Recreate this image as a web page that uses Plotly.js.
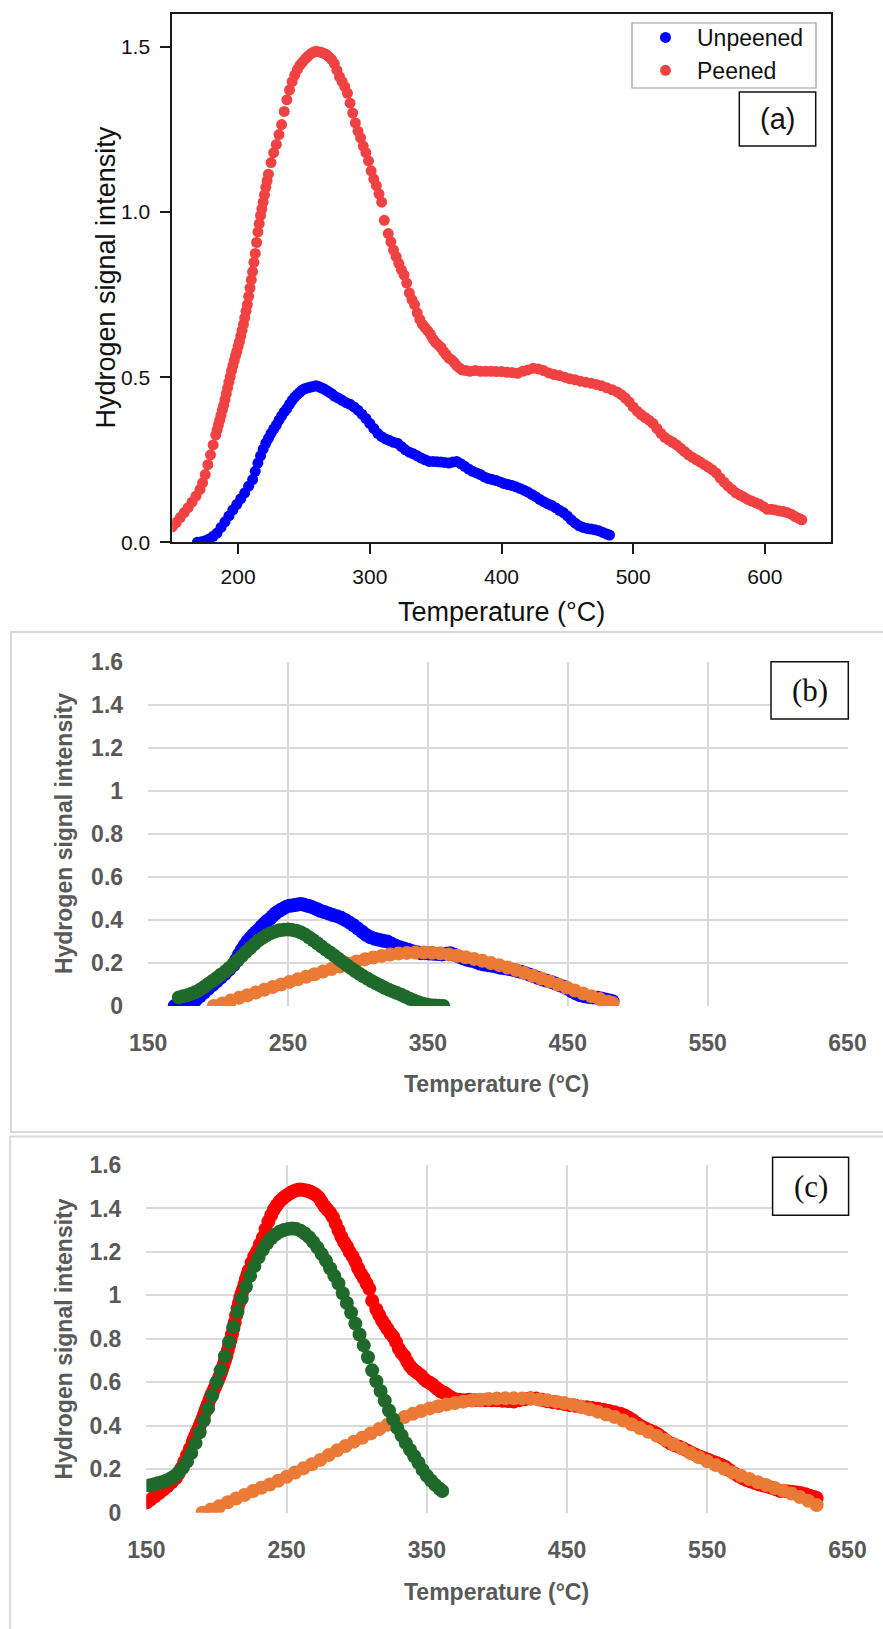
<!DOCTYPE html>
<html>
<head>
<meta charset="utf-8">
<script src="https://cdn.plot.ly/plotly-3.0.1.min.js"></script>
<style>html,body{margin:0;padding:0;background:#fff;}#chart{width:883px;height:1629px;}</style>
</head>
<body>
<div id="chart"></div>
<script>
// ---------- Data ----------
// Panel (a)/(b): Unpeened
const T_unpeened = [169,172,175,178,181,184,187,190,193,196,199,202,205,208,211,213,215,217,219,221,223,225,227,229,231,233,235,237,239,241,243,245,247,249,251,253,255,257,259,261,263,265,267,269,271,273,276,279,282,285,288,291,294,297,300,303,306,309,312,315,318,321,324,327,330,333,336,339,342,345,348,351,354,357,360,363,366,369,372,375,378,381,384,387,390,393,396,399,402,405,408,411,414,417,420,423,426,429,432,435,438,441,444,447,450,453,456,459,462,465,468,471,474,477,480,482];
const I_unpeened = [0.0,0.002,0.005,0.01,0.018,0.028,0.045,0.062,0.08,0.098,0.115,0.132,0.15,0.17,0.19,0.215,0.24,0.262,0.282,0.3,0.315,0.33,0.343,0.355,0.37,0.383,0.395,0.405,0.418,0.43,0.44,0.448,0.455,0.462,0.466,0.468,0.47,0.472,0.474,0.472,0.468,0.465,0.46,0.455,0.45,0.443,0.437,0.43,0.423,0.418,0.41,0.4,0.388,0.375,0.36,0.345,0.33,0.32,0.313,0.308,0.303,0.3,0.29,0.28,0.273,0.268,0.262,0.255,0.25,0.245,0.245,0.244,0.243,0.242,0.24,0.243,0.245,0.238,0.23,0.222,0.215,0.21,0.205,0.198,0.193,0.19,0.187,0.183,0.178,0.175,0.172,0.168,0.163,0.158,0.152,0.145,0.138,0.13,0.123,0.117,0.112,0.105,0.097,0.09,0.08,0.068,0.058,0.05,0.045,0.042,0.04,0.038,0.035,0.03,0.025,0.022];

// Panel (a)/(c): Peened
const T_peened = [150,153,156,159,162,165,168,171,173,175,177,179,181,183,184,185,186,187,188,189,190,191,192,193,194,195,196,197,198,199,200,201,202,203,204,205,206,207,208,209,210,211,212,213,214,215,216,217,218,219,220,221,222,223,225,227,229,231,233,235,237,239,241,243,245,247,249,251,253,255,257,259,261,263,265,267,269,271,273,275,277,279,281,283,285,287,289,291,293,295,297,299,301,303,305,307,309,311,314,316,318,320,322,324,326,328,330,332,334,336,338,340,342,344,346,348,350,352,354,356,358,360,362,364,366,368,370,373,376,380,384,388,392,396,400,404,408,412,416,420,424,428,432,436,440,444,448,452,456,460,464,468,472,476,480,484,488,491,494,497,500,503,506,509,512,515,518,521,524,527,530,533,536,539,542,545,548,551,554,557,560,563,566,569,572,575,578,581,584,587,590,593,596,599,602,605,608,611,614,617,620,623,626,628];
const I_peened = [0.047,0.06,0.075,0.09,0.105,0.122,0.14,0.16,0.18,0.205,0.235,0.265,0.295,0.325,0.34,0.355,0.37,0.385,0.4,0.415,0.432,0.45,0.468,0.485,0.502,0.52,0.535,0.55,0.565,0.578,0.593,0.608,0.625,0.642,0.66,0.68,0.7,0.72,0.745,0.77,0.795,0.82,0.848,0.875,0.908,0.94,0.965,0.99,1.01,1.03,1.052,1.075,1.095,1.115,1.15,1.18,1.205,1.235,1.265,1.305,1.34,1.37,1.395,1.415,1.432,1.445,1.455,1.464,1.472,1.479,1.484,1.487,1.486,1.484,1.481,1.477,1.47,1.462,1.45,1.43,1.41,1.395,1.38,1.36,1.33,1.3,1.27,1.245,1.225,1.2,1.18,1.155,1.125,1.1,1.08,1.055,1.03,0.975,0.935,0.91,0.885,0.865,0.845,0.825,0.81,0.785,0.755,0.735,0.72,0.695,0.675,0.66,0.65,0.64,0.63,0.615,0.605,0.598,0.59,0.578,0.568,0.558,0.553,0.545,0.535,0.528,0.522,0.52,0.518,0.52,0.518,0.518,0.518,0.517,0.517,0.515,0.514,0.512,0.518,0.522,0.527,0.525,0.52,0.513,0.508,0.505,0.5,0.495,0.492,0.488,0.485,0.482,0.478,0.474,0.468,0.462,0.455,0.447,0.437,0.425,0.41,0.397,0.387,0.378,0.37,0.36,0.345,0.33,0.318,0.31,0.303,0.295,0.285,0.275,0.265,0.257,0.25,0.243,0.235,0.228,0.22,0.21,0.195,0.182,0.17,0.16,0.15,0.143,0.137,0.13,0.125,0.12,0.115,0.108,0.1,0.1,0.098,0.095,0.093,0.09,0.085,0.078,0.072,0.068];

// Panel (b): fitted peaks for unpeened
const T_b_peak1 = [172,175,178,181,184,187,190,193,196,199,202,205,208,211,214,217,220,223,226,229,232,235,238,241,244,247,250,253,256,259,262,265,268,271,274,277,280,283,286,289,292,295,298,301,304,307,310,313,316,319,322,325,328,331,334,337,340,343,346,349,352,355,358,361];
const I_b_peak1 = [0.04,0.045,0.05,0.057,0.065,0.075,0.088,0.102,0.116,0.13,0.145,0.16,0.177,0.195,0.213,0.232,0.252,0.27,0.288,0.305,0.318,0.33,0.34,0.347,0.352,0.355,0.356,0.354,0.35,0.343,0.333,0.32,0.306,0.292,0.277,0.262,0.249,0.235,0.22,0.205,0.19,0.176,0.163,0.15,0.138,0.127,0.115,0.105,0.095,0.085,0.076,0.068,0.06,0.052,0.043,0.034,0.026,0.018,0.012,0.007,0.004,0.002,0.001,0.0];
const T_b_peak2 = [197,203,209,215,221,227,233,239,245,251,257,263,269,275,281,287,293,299,305,311,317,323,329,335,341,347,353,359,365,371,377,383,389,395,401,407,413,419,425,431,437,443,449,455,461,467,473,479,482];
const I_b_peak2 = [0.0,0.012,0.025,0.038,0.05,0.063,0.075,0.088,0.1,0.112,0.124,0.136,0.148,0.16,0.172,0.184,0.196,0.207,0.217,0.226,0.233,0.239,0.244,0.247,0.249,0.249,0.248,0.245,0.24,0.234,0.227,0.219,0.21,0.2,0.19,0.179,0.167,0.154,0.141,0.128,0.114,0.1,0.086,0.072,0.058,0.045,0.032,0.02,0.014];

// Panel (c): fitted peaks for peened
const T_c_peak1 = [152,155,158,161,164,167,170,173,176,179,182,185,188,191,194,197,200,203,206,209,212,215,218,221,224,227,230,233,236,239,242,245,248,251,254,257,260,263,266,269,272,275,278,281,284,287,290,293,296,299,302,305,308,311,314,317,320,323,326,329,332,335,338,341,344,347,350,353,356,359,361];
const I_c_peak1 = [0.125,0.13,0.135,0.14,0.147,0.156,0.168,0.185,0.207,0.235,0.275,0.32,0.37,0.425,0.48,0.54,0.6,0.655,0.72,0.785,0.855,0.925,0.985,1.04,1.09,1.135,1.175,1.21,1.24,1.263,1.28,1.293,1.301,1.306,1.308,1.305,1.298,1.285,1.268,1.246,1.22,1.19,1.16,1.125,1.09,1.055,1.01,0.965,0.92,0.87,0.82,0.77,0.715,0.655,0.605,0.56,0.515,0.47,0.43,0.39,0.355,0.32,0.29,0.26,0.23,0.197,0.17,0.148,0.128,0.11,0.1];
const T_c_peak2 = [190,196,202,208,214,220,226,232,238,244,250,256,262,268,274,280,286,292,298,304,310,316,322,328,334,340,346,352,358,364,370,376,382,388,394,400,406,412,418,424,430,436,442,448,454,460,466,472,478,484,490,496,502,508,514,520,526,532,538,544,550,556,562,568,574,580,586,592,598,604,610,616,622,628];
const I_c_peak2 = [0.0,0.015,0.03,0.048,0.065,0.082,0.1,0.115,0.13,0.147,0.165,0.185,0.204,0.223,0.243,0.265,0.287,0.307,0.327,0.345,0.365,0.385,0.405,0.423,0.44,0.455,0.468,0.48,0.49,0.498,0.505,0.511,0.516,0.52,0.523,0.525,0.527,0.527,0.526,0.524,0.521,0.517,0.511,0.505,0.497,0.487,0.476,0.464,0.452,0.44,0.424,0.407,0.39,0.372,0.354,0.335,0.315,0.295,0.275,0.255,0.237,0.219,0.202,0.185,0.17,0.155,0.14,0.127,0.114,0.101,0.088,0.072,0.055,0.035];

// Tick labels
const a_xticks = [200,300,400,500,600];
const a_yticks = [0,0.5,1.0,1.5];
const a_ytext = ['0.0','0.5','1.0','1.5'];
const bc_xticks = [150,250,350,450,550,650];
const bc_yticks = [0,0.2,0.4,0.6,0.8,1.0,1.2,1.4,1.6];
const bc_ytext = ['0','0.2','0.4','0.6','0.8','1','1.2','1.4','1.6'];

// ---------- Layout helpers ----------
const W = 883, H = 1629;
const px = v => v / W;
const py = v => 1 - v / H;

const sans = 'Liberation Sans, Arial, sans-serif';
const serif = 'Liberation Serif, Times New Roman, serif';
const grey = '#595959';

const traces = [
  {x: T_unpeened, y: I_unpeened, name: 'Unpeened', mode: 'markers', type: 'scatter',
   marker: {color: '#0000FF', size: 11}, xaxis: 'x', yaxis: 'y'},
  {x: T_peened, y: I_peened, name: 'Peened', mode: 'markers', type: 'scatter',
   marker: {color: '#F04242', size: 11}, xaxis: 'x', yaxis: 'y'},

  {x: T_unpeened, y: I_unpeened, name: 'Unpeened', mode: 'markers', type: 'scatter', showlegend: false,
   marker: {color: '#0000FF', size: 14}, xaxis: 'x2', yaxis: 'y2'},
  {x: T_b_peak2, y: I_b_peak2, name: 'Peak 2', mode: 'markers', type: 'scatter', showlegend: false,
   marker: {color: '#EB7A36', size: 14}, xaxis: 'x2', yaxis: 'y2'},
  {x: T_b_peak1, y: I_b_peak1, name: 'Peak 1', mode: 'markers', type: 'scatter', showlegend: false,
   marker: {color: '#1F6A2A', size: 14}, xaxis: 'x2', yaxis: 'y2'},

  {x: T_peened, y: I_peened, name: 'Peened', mode: 'markers', type: 'scatter', showlegend: false,
   marker: {color: '#FF0000', size: 14}, xaxis: 'x3', yaxis: 'y3'},
  {x: T_c_peak2, y: I_c_peak2, name: 'Peak 2', mode: 'markers', type: 'scatter', showlegend: false,
   marker: {color: '#EB7A36', size: 14}, xaxis: 'x3', yaxis: 'y3'},
  {x: T_c_peak1, y: I_c_peak1, name: 'Peak 1', mode: 'markers', type: 'scatter', showlegend: false,
   marker: {color: '#1F6A2A', size: 14}, xaxis: 'x3', yaxis: 'y3'}
];

const axA = {
  showgrid: false, zeroline: false, showline: true, mirror: true, linecolor: '#1a1a1a', linewidth: 2,
  ticks: 'outside', ticklen: 10, tickwidth: 2, tickcolor: '#1a1a1a',
  tickfont: {family: sans, size: 21, color: '#111'}
};
const gridAx = {
  showgrid: true, gridcolor: '#d9d9d9', gridwidth: 2, zeroline: false, showline: false,
  ticks: '', tickfont: {family: sans, size: 23, color: grey, weight: 'bold'}
};

const layout = {
  width: W, height: H,
  margin: {l: 0, r: 0, t: 0, b: 0},
  paper_bgcolor: '#ffffff', plot_bgcolor: '#ffffff',
  showlegend: true,
  legend: {x: px(634), y: py(16), xanchor: 'left', yanchor: 'top',
    bordercolor: 'rgba(0,0,0,0)', borderwidth: 0, bgcolor: 'rgba(0,0,0,0)',
    font: {family: sans, size: 23, color: '#111'}, itemwidth: 53, tracegroupgap: 0},
  xaxis: Object.assign({}, axA, {domain: [px(172.3), px(830.7)], range: [150, 650], anchor: 'y',
    tickmode: 'array', tickvals: a_xticks, ticklabelstandoff: 4}),
  yaxis: Object.assign({}, axA, {domain: [py(542.3), py(14)], range: [0, 1.6], anchor: 'x',
    tickmode: 'array', tickvals: a_yticks, ticktext: a_ytext, ticklabelstandoff: 6}),
  xaxis2: Object.assign({}, gridAx, {domain: [px(148.1), px(847.5)], range: [150, 650], anchor: 'y2',
    tickmode: 'array', tickvals: bc_xticks, ticklabelstandoff: 21}),
  yaxis2: Object.assign({}, gridAx, {domain: [py(1006), py(662)], range: [0, 1.6], anchor: 'x2',
    tickmode: 'array', tickvals: bc_yticks, ticktext: bc_ytext, ticklabelstandoff: 24}),
  xaxis3: Object.assign({}, gridAx, {domain: [px(146.4), px(847.5)], range: [150, 650], anchor: 'y3',
    tickmode: 'array', tickvals: bc_xticks, ticklabelstandoff: 21}),
  yaxis3: Object.assign({}, gridAx, {domain: [py(1512.7), py(1165)], range: [0, 1.6], anchor: 'x3',
    tickmode: 'array', tickvals: bc_yticks, ticktext: bc_ytext, ticklabelstandoff: 24}),
  shapes: [
    // panel frames for (b) and (c)
    {type: 'rect', xref: 'paper', yref: 'paper', x0: px(11), x1: px(895), y0: py(632), y1: py(1132),
     line: {color: '#d9d9d9', width: 2}, layer: 'below'},
    {type: 'rect', xref: 'paper', yref: 'paper', x0: px(10), x1: px(895), y0: py(1136.5), y1: py(1645),
     line: {color: '#d9d9d9', width: 2}, layer: 'below'},
    // legend frame of (a)
    {type: 'rect', xref: 'paper', yref: 'paper', x0: px(632), x1: px(816), y0: py(23), y1: py(88),
     line: {color: '#9a9a9a', width: 1.2}, fillcolor: '#ffffff', layer: 'below'},
    // label boxes
    {type: 'rect', xref: 'paper', yref: 'paper', x0: px(739.3), x1: px(815.7), y0: py(92), y1: py(146),
     line: {color: '#111', width: 1.5}, fillcolor: '#ffffff'},
    {type: 'rect', xref: 'paper', yref: 'paper', x0: px(771), x1: px(848.3), y0: py(661.7), y1: py(719),
     line: {color: '#111', width: 1.5}, fillcolor: '#ffffff'},
    {type: 'rect', xref: 'paper', yref: 'paper', x0: px(772.6), x1: px(848.6), y0: py(1157.3), y1: py(1215.3),
     line: {color: '#111', width: 1.5}, fillcolor: '#ffffff'}
  ],
  annotations: [
    {text: '(a)', xref: 'paper', yref: 'paper', x: px(777.5), y: py(119), showarrow: false,
     xanchor: 'center', yanchor: 'middle', font: {family: sans, size: 29, color: '#111'}},
    {text: '(b)', xref: 'paper', yref: 'paper', x: px(809.6), y: py(690), showarrow: false,
     xanchor: 'center', yanchor: 'middle', font: {family: serif, size: 31, color: '#111'}},
    {text: '(c)', xref: 'paper', yref: 'paper', x: px(810.6), y: py(1186.3), showarrow: false,
     xanchor: 'center', yanchor: 'middle', font: {family: serif, size: 31, color: '#111'}},
    // axis titles
    {text: 'Temperature (°C)', xref: 'paper', yref: 'paper', x: px(501.5), y: py(612), showarrow: false,
     xanchor: 'center', yanchor: 'middle', font: {family: sans, size: 27, color: '#111'}},
    {text: 'Hydrogen signal intensity', xref: 'paper', yref: 'paper', x: px(105.5), y: py(278), showarrow: false,
     textangle: -90, xanchor: 'center', yanchor: 'middle', font: {family: sans, size: 27, color: '#111'}},
    {text: 'Temperature (°C)', xref: 'paper', yref: 'paper', x: px(496.4), y: py(1084), showarrow: false,
     xanchor: 'center', yanchor: 'middle', font: {family: sans, size: 23, color: grey, weight: 'bold'}},
    {text: 'Hydrogen signal intensity', xref: 'paper', yref: 'paper', x: px(63.6), y: py(833.5), showarrow: false,
     textangle: -90, xanchor: 'center', yanchor: 'middle', font: {family: sans, size: 23, color: grey, weight: 'bold'}},
    {text: 'Temperature (°C)', xref: 'paper', yref: 'paper', x: px(496.4), y: py(1591.7), showarrow: false,
     xanchor: 'center', yanchor: 'middle', font: {family: sans, size: 23, color: grey, weight: 'bold'}},
    {text: 'Hydrogen signal intensity', xref: 'paper', yref: 'paper', x: px(63.6), y: py(1339), showarrow: false,
     textangle: -90, xanchor: 'center', yanchor: 'middle', font: {family: sans, size: 23, color: grey, weight: 'bold'}}
  ]
};

Plotly.newPlot('chart', traces, layout, {staticPlot: true, displayModeBar: false});
</script>
</body>
</html>
